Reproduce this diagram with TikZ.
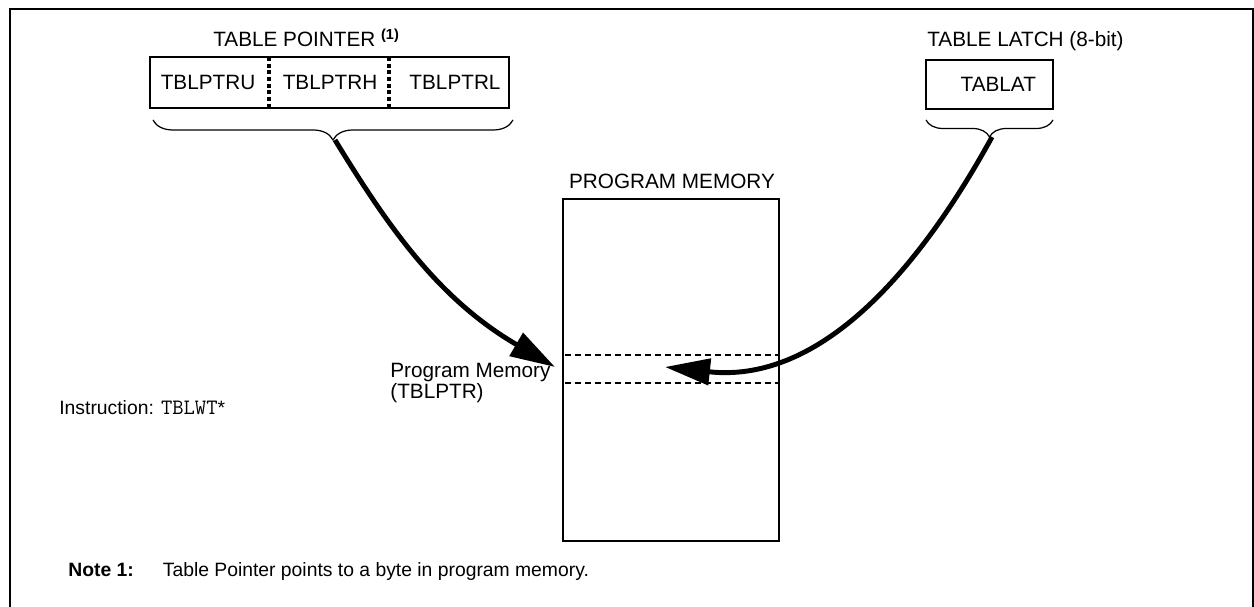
\documentclass[tikz,border=0pt]{standalone}
\usepackage{fontspec}
\setmainfont{Liberation Sans}
\usetikzlibrary{arrows.meta,decorations.pathreplacing}

\begin{document}
\begin{tikzpicture}[x=0.02cm, y=-0.02cm, font=\fontsize{11.8}{14}\selectfont,
    reg/.style = {draw, line width=1pt, inner sep=0pt},
    lbl/.style = {inner sep=0pt},
    small/.style = {inner sep=0pt, anchor=west, font=\fontsize{11}{13}\selectfont},
    sep/.style = {line width=1.9pt, dash pattern=on 2.3pt off 1.5pt},
    row/.style = {line width=0.9pt, dash pattern=on 3.4pt off 2.3pt},
    curly/.style = {decorate, line width=0.7pt, decoration={brace, amplitude=#1}},
    flow/.style = {line width=2.8pt, -{Triangle[length=9mm, width=5.2mm]}}]
\useasboundingbox (0,0) rectangle (1254,607);
\draw[line width=1.4pt] (10,607) -- (10,9) -- (1253,9) -- (1253,607);

    \node[reg, minimum width=7.18cm, minimum height=1.02cm] (ptr) at (329.5,82.5) {};
    \node[lbl] (ptru) at (208,82) {TBLPTRU};
    \node[lbl] (ptrh) at (330,82) {TBLPTRH};
    \node[lbl] (ptrl) at (455,82) {TBLPTRL};
    \node[lbl, anchor=base west] (ptrtitle) at (213,47) {TABLE POINTER \textsuperscript{\bfseries (1)}};
    \node[reg, minimum width=2.54cm, minimum height=0.98cm] (lat) at (989.5,84.5) {\hspace{10pt}TABLAT};
    \node[lbl, anchor=base west] (lattitle) at (927,47) {TABLE LATCH (8-bit)};
    \node[reg, minimum width=4.32cm, minimum height=6.84cm] (pm) at (671,370) {};
    \node[lbl] (pmtitle) at (672,181) {PROGRAM MEMORY};
    \node[lbl, anchor=west, align=left, font=\fontsize{11.8}{12.2}\selectfont] (pmaddr) at (390,383) {Program Memory\\(TBLPTR)};
    \node[small] (instr) at (59,408) {Instruction: {\fontsize{12.5}{13}\selectfont\ttfamily TBLWT}*};
    \node[small] (note) at (68,572) {\textbf{Note 1:}\hspace{5.8mm}Table Pointer points to a byte in program memory.};

\draw[sep] (269,57) -- (269,108);
\draw[sep] (389,57) -- (389,108);
\draw[row] (565,355) -- (779,355);
\draw[row] (565,383) -- (779,383);
\draw[curly=0.4cm] (513,120) -- (153,120);
\draw[curly=0.34cm] (1053,120) -- (926,120);

    \coordinate (ptrtip) at (335,140);
    \coordinate (lattip) at (992,137);
    \coordinate (pmin) at (555,367);
    \coordinate (pmbyte) at (665,367);
\draw[flow] (ptrtip) .. controls (390,230) and (440,300) .. (pmin);
\draw[flow] (lattip) .. controls (930,250) and (830,385) .. (pmbyte);
\end{tikzpicture}
\end{document}
